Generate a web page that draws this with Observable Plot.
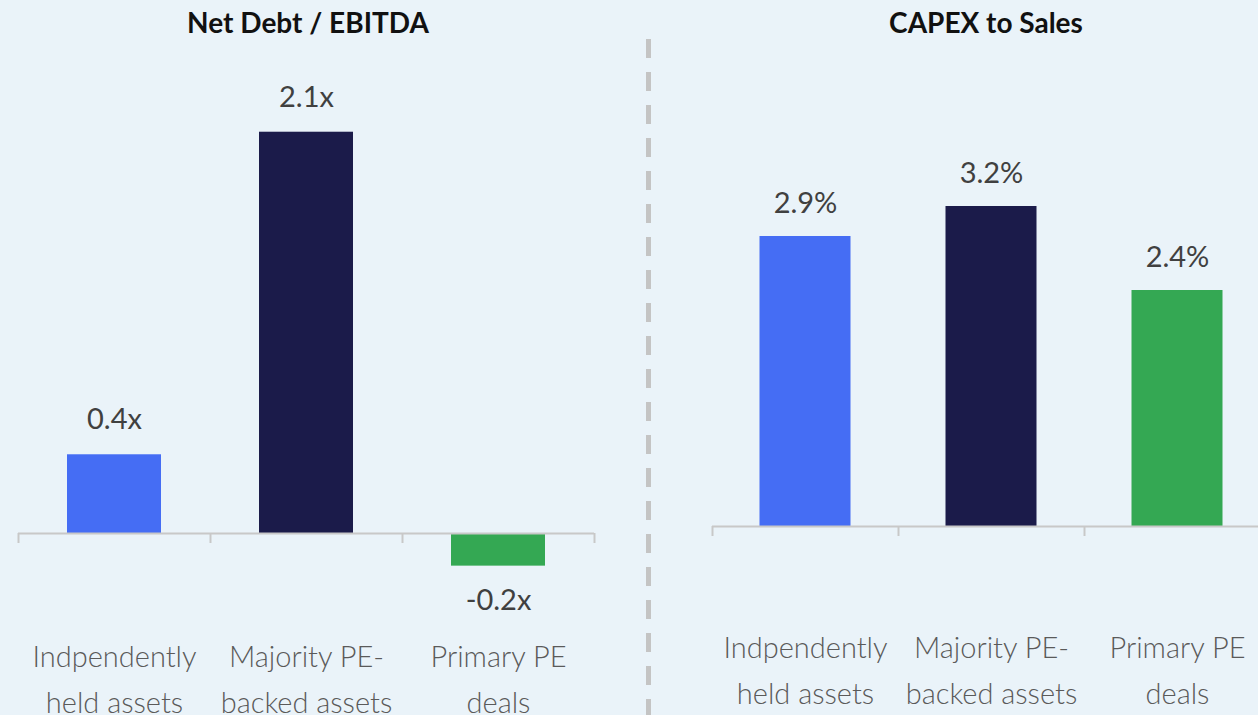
<!DOCTYPE html>
<html>
<head>
<meta charset="utf-8">
<script src="https://cdn.jsdelivr.net/npm/d3@7"></script>
<script src="https://cdn.jsdelivr.net/npm/@observablehq/plot@0.6"></script>
<style>
  html, body { margin: 0; padding: 0; overflow: hidden; background: #EAF3F9; }
  #wrap { position: relative; width: 1258px; height: 715px; overflow: hidden; background: #EAF3F9; font-family: Lato, "Open Sans", sans-serif; }
  .title { position: absolute; top: 5px; font-weight: 700; font-size: 28px; color: #111; transform: translateX(-50%); white-space: nowrap; }
  #left { position: absolute; left: 0; top: 0; width: 620px; }
  #right { position: absolute; left: 652px; top: 0; width: 630px; }
  #sep { position: absolute; left: 0; top: 0; }
</style>
</head>
<body>
<div id="wrap">
  <div class="title" style="left:308px">Net Debt / EBITDA</div>
  <div class="title" style="left:986px">CAPEX to Sales</div>
  <svg id="sep" width="1258" height="715"><line x1="648.5" x2="648.5" y1="39" y2="715" stroke="#C4C4C4" stroke-width="5" stroke-dasharray="19 14"/></svg>
  <div id="left"></div>
  <div id="right"></div>
</div>
<script>
const categories = ["Indpendently\nheld assets", "Majority PE-\nbacked assets", "Primary PE\ndeals"];
const colors = ["#456DF4", "#1B1B4A", "#34A853"];
const netDebtValues = [0.41, 2.09, -0.17];
const netDebtLabels = ["0.4x", "2.1x", "-0.2x"];
const capexValues = [2.9, 3.2, 2.36];
const capexLabels = ["2.9%", "3.2%", "2.4%"];

function panel(values, labels, opts) {
  const data = categories.map((c, i) => ({i, cat: c, value: values[i], label: labels[i]}));
  const axisGray = "#C8C8C8";
  return Plot.plot({
    width: opts.width,
    height: 715,
    marginLeft: opts.marginLeft,
    marginRight: opts.marginRight,
    marginTop: opts.marginTop,
    marginBottom: opts.marginBottom,
    style: {fontFamily: "Lato, 'Open Sans', sans-serif", background: "transparent"},
    x: {type: "linear", domain: [0, 3], label: null},
    y: {domain: opts.yDomain, axis: null, label: null},
    color: {domain: categories, range: colors},
    marks: [
      Plot.rectY(data, {x1: "i", x2: d => d.i + 1, y: "value", fill: "cat", insetLeft: opts.inset, insetRight: opts.inset}),
      Plot.ruleY([0], {stroke: axisGray, strokeWidth: 2}),
      Plot.axisX({ticks: [0, 1, 2, 3], tickFormat: () => "", label: null, tickSize: 10, stroke: axisGray, strokeWidth: 2, strokeOpacity: 1}),
      Plot.text(data.filter(d => d.value >= 0), {x: d => d.i + 0.5, y: "value", text: "label", dy: opts.labelDy, fontSize: 29, fill: "#404040"}),
      Plot.text(data.filter(d => d.value < 0), {x: d => d.i + 0.5, y: "value", text: "label", dy: -opts.labelDy, fontSize: 29, fill: "#404040"}),
      Plot.text(data, {x: d => d.i + 0.5, frameAnchor: "bottom", text: "cat", lineAnchor: "top", dy: opts.catDy, fontSize: 29, fontWeight: 300, lineHeight: 1.58, fill: "#5A5A5A"})
    ]
  });
}

document.getElementById("left").append(panel(netDebtValues, netDebtLabels, {
  width: 620, marginLeft: 18, marginRight: 26, marginTop: 53, marginBottom: 182,
  yDomain: [0, 2.5], inset: 49, labelDy: -35, catDy: 101
}));
document.getElementById("right").append(panel(capexValues, capexLabels, {
  width: 630, marginLeft: 60, marginRight: 12, marginTop: 166, marginBottom: 189,
  yDomain: [0, 3.6], inset: 47.5, labelDy: -33, catDy: 99
}));
</script>
</body>
</html>
